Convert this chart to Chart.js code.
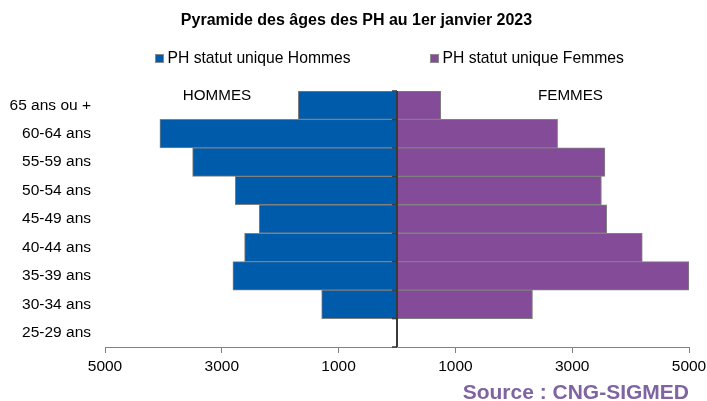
<!DOCTYPE html>
<html lang="fr">
<head>
<meta charset="utf-8">
<title>Pyramide des âges des PH au 1er janvier 2023</title>
<script src="https://cdn.jsdelivr.net/npm/chart.js@4.4.1/dist/chart.umd.min.js"></script>
<style>
  html, body { margin: 0; padding: 0; background: #fff; }
  #wrap { position: relative; width: 707px; height: 401px; overflow: hidden; font-family: "Liberation Sans", Arial, sans-serif; color: #000; }
  #wrap canvas { position: absolute; left: 0; top: 0; }
  .ov { position: absolute; white-space: nowrap; }
  #title { left: 0; width: 713px; top: 10px; height: 20px; line-height: 20px; text-align: center; font-weight: bold; font-size: 16px; }
  .leg { top: 48px; height: 20px; line-height: 20px; font-size: 15.7px; }
  .leg i { position: absolute; left: 0; top: 6px; width: 7px; height: 7px; border: 1px solid #8a8a8a; }
  .leg span { position: absolute; left: 12.5px; top: 0; }
  #legH { left: 155px; }
  #legF { left: 430px; }
  .side { top: 85px; height: 20px; line-height: 20px; font-size: 15.2px; width: 120px; text-align: center; }
  #hom { left: 157px; }
  #fem { left: 510.5px; }
  #src { right: 18px; top: 380px; height: 24px; line-height: 24px; font-size: 21px; font-weight: bold; color: #8064A2; }
</style>
</head>
<body>
<div id="wrap">
  <canvas id="c" width="707" height="401"></canvas>
  <div class="ov" id="title">Pyramide des âges des PH au 1er janvier 2023</div>
  <div class="ov leg" id="legH"><i style="background:#005BAA"></i><span>PH statut unique Hommes</span></div>
  <div class="ov leg" id="legF"><i style="background:#844B98"></i><span>PH statut unique Femmes</span></div>
  <div class="ov side" id="hom">HOMMES</div>
  <div class="ov side" id="fem">FEMMES</div>
  <div class="ov" id="src">Source : CNG-SIGMED</div>
</div>
<script>
// ---- data ----
const categories = ['65 ans ou +', '60-64 ans', '55-59 ans', '50-54 ans', '45-49 ans', '40-44 ans', '35-39 ans', '30-34 ans', '25-29 ans'];
const hommes = [1690, 4060, 3500, 2770, 2360, 2610, 2810, 1290, 0];
const femmes = [750, 2750, 3560, 3500, 3590, 4200, 5000, 2320, 0];
const xTicks = [-5000, -3000, -1000, 1000, 3000, 5000];
const seriesNames = ['PH statut unique Hommes', 'PH statut unique Femmes'];

const FONT = '"Liberation Sans", Arial, sans-serif';

const zeroLine = {
  id: 'zeroLine',
  afterDatasetsDraw(chart) {
    const { ctx, chartArea, scales } = chart;
    const x = scales.x.getPixelForValue(0);
    const ys = scales.y;
    const step = ys.getPixelForValue(1) - ys.getPixelForValue(0);
    ctx.save();
    ctx.strokeStyle = '#3a3a3a';
    ctx.lineWidth = 2;
    ctx.beginPath();
    ctx.moveTo(x, chartArea.top);
    ctx.lineTo(x, chartArea.bottom);
    ctx.stroke();
    ctx.lineWidth = 1.5;
    for (let i = 0; i <= categories.length; i++) {
      const yy = ys.getPixelForValue(i) - step / 2;
      ctx.beginPath();
      ctx.moveTo(x - 5, yy);
      ctx.lineTo(x, yy);
      ctx.stroke();
    }
    ctx.restore();
  }
};

new Chart(document.getElementById('c'), {
  type: 'bar',
  data: {
    labels: categories,
    datasets: [
      {
        label: seriesNames[0],
        data: hommes.map(v => -v),
        backgroundColor: '#005BAA',
        borderColor: '#808080',
        borderWidth: 1,
        borderSkipped: false,
        categoryPercentage: 1,
        barPercentage: 1
      },
      {
        label: seriesNames[1],
        data: femmes,
        backgroundColor: '#844B98',
        borderColor: '#808080',
        borderWidth: 1,
        borderSkipped: false,
        categoryPercentage: 1,
        barPercentage: 1
      }
    ]
  },
  options: {
    indexAxis: 'y',
    responsive: false,
    animation: false,
    layout: { padding: { top: 91, right: 18, bottom: 0, left: 0 } },
    plugins: {
      legend: { display: false },
      title: { display: false },
      tooltip: { enabled: false }
    },
    scales: {
      x: {
        type: 'linear',
        stacked: true,
        min: -5000,
        max: 5000,
        afterBuildTicks(scale) { scale.ticks = xTicks.map(v => ({ value: v })); },
        afterFit(scale) { scale.height = 54; scale.paddingLeft = 0; scale.paddingRight = 0; },
        border: { display: true, color: '#808080', width: 1 },
        grid: { drawOnChartArea: false, drawTicks: true, tickLength: 6, color: '#808080' },
        ticks: {
          padding: 4,
          color: '#000',
          font: { family: FONT, size: 15.5 },
          callback: v => String(Math.abs(v))
        }
      },
      y: {
        stacked: true,
        afterFit(scale) { scale.width = 105; scale.paddingTop = 0; scale.paddingBottom = 0; },
        border: { display: false },
        grid: { display: false, drawTicks: false },
        ticks: {
          padding: 14,
          color: '#000',
          font: { family: FONT, size: 15.5 }
        }
      }
    }
  },
  plugins: [zeroLine]
});
</script>
</body>
</html>
